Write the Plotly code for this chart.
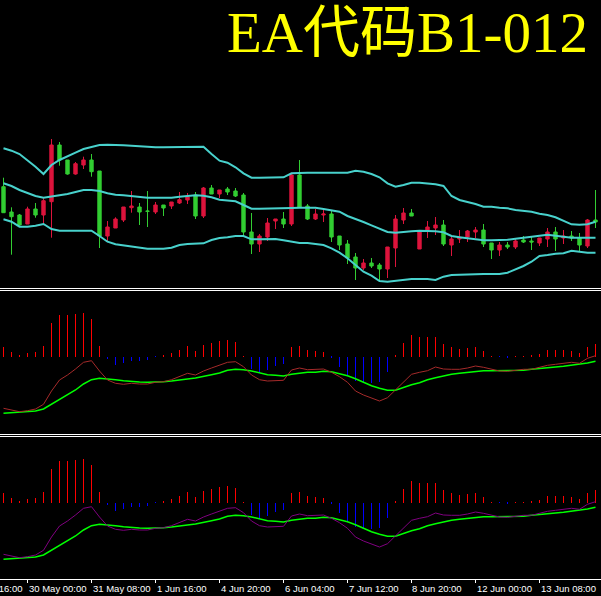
import plotly.graph_objects as go

# ---------------- data ----------------
BAR_IDX = list(range(75))

OPEN = [113.3, 88, 85, 76, 91, 85, 98.3, 155, 140, 126,
        135, 140, 129, 64, 72, 80, 92.3, 93, 89, 88,
        95, 94, 97, 100, 105, 84, 112, 106, 111, 109,
        105, 68, 56, 63, 79, 81, 76, 125, 94, 81,
        85, 86, 64, 56, 43, 32, 37, 35, 31, 52,
        80, 87, 51, 70, 72, 75, 55, 61, 63, 68,
        70, 57, 50, 55, 53, 60, 59, 57, 61, 68,
        62, 64, 62, 54, 80]
HIGH = [122.3, 92.7, 86, 93.3, 97, 101.7, 161, 158, 140, 138,
        143.3, 146, 129, 79, 82.7, 93, 109, 97, 109, 98,
        95, 98, 108, 107, 108, 113, 115, 110, 113, 112,
        107, 87, 66, 82, 81, 88, 126, 140, 96, 91,
        90, 89, 64, 60, 47, 41, 42, 37, 53, 85,
        92, 91, 68, 79, 83, 80, 64, 70, 70, 73,
        76, 57, 58, 58, 61, 64, 64, 62, 72, 73,
        70, 69, 67, 81, 110]
LOW = [87.3, 45.3, 74.3, 76, 82.3, 76, 62.3, 134.3, 125.3, 125.3,
       131, 123.3, 52, 59, 72, 78, 87.3, 75, 73, 86,
       84, 91, 96, 96, 81, 82, 106, 102, 105, 103,
       64, 46, 48, 59, 71, 72, 74, 93, 80, 80,
       78, 58, 50, 36, 20, 30, 32, 19, 22, 33,
       76, 84, 51, 62, 65, 54, 44, 57, 58, 62,
       53, 41, 44, 51, 51, 57, 50, 54, 53, 49,
       56, 59, 49, 52, 72]
CLOSE = [87.3, 83.3, 75, 91, 85, 99.3, 155, 140, 126, 136.3,
         140, 128.3, 64, 73, 81, 93, 94, 88, 88.7, 95,
         92, 98, 100.3, 103, 84, 112, 106, 110, 108, 104,
         68, 56, 64, 77, 81, 76, 125, 93, 81, 86,
         86, 63, 55, 42, 32, 37, 34, 31, 53, 81,
         87, 84, 68, 73, 75, 56, 61, 63, 69, 70,
         56, 50, 55, 53, 59, 58, 58, 62, 68, 61,
         64, 62, 55, 80, 78]

BB_UPPER = [151.7, 149.3, 146, 140, 133.3, 126, 135, 140, 143.3, 147.3,
            151, 152.7, 155, 155.3, 155.3, 154.7, 154.3, 153.7, 152.7, 152.7,
            152.7, 152.7, 152.7, 153.3, 153.3, 153.3, 146, 139.3, 137.3, 132.7,
            126.7, 122.3, 122.3, 122.3, 122.3, 122.7, 126.7, 127.3, 127.3, 127.3,
            127.3, 127.3, 127.3, 127.3, 129.3, 128.3, 126, 122.7, 116.7, 113.3,
            115, 117.3, 117.3, 116.7, 115.7, 114, 104, 100, 98.3, 96,
            93.3, 93.3, 92.3, 91.7, 90, 89.3, 88.3, 86.3, 85, 82.7,
            79.3, 75.7, 75.3, 75.7, 78.3]
BB_MID = [116.7, 114, 110, 107.3, 104, 102.3, 103.3, 105, 106, 108,
          110, 110, 109, 106.7, 105.3, 104.7, 103.7, 102.7, 102.3, 102.3,
          102.3, 102.3, 103.3, 104.3, 104.7, 104.3, 102.7, 100.3, 99.7, 98.7,
          95, 91.3, 91.3, 91.3, 91.3, 91.3, 92, 92.3, 92.3, 92.3,
          91, 90, 88.3, 84, 81.3, 78, 74.7, 71, 68, 67.3,
          67.7, 68.7, 69.3, 69.3, 68.7, 67.7, 64, 62.7, 61.7, 60.7,
          59.7, 59.7, 59.7, 60.3, 61.3, 62.3, 63.3, 64.3, 65.3, 64.3,
          63.3, 62.3, 62.3, 62.3, 62.3]
BB_LOWER = [80.7, 78.3, 73.3, 73.3, 74.3, 76, 71, 69.3, 69.3, 69.3,
            69.3, 69.3, 64, 58.3, 55.7, 54.7, 53.3, 52.3, 51.3, 51.3,
            51.3, 52.3, 55, 56, 56.3, 56.7, 60, 62, 62.7, 64,
            64, 60.7, 60.7, 61, 61, 59.7, 58, 57, 57, 56,
            55, 51.7, 47.3, 41.7, 35, 28.3, 24.3, 19, 18.3, 19.3,
            20, 21, 21, 21, 20, 23.3, 25, 25.3, 26, 26,
            26, 26, 26, 27.3, 30.7, 34, 38.3, 44, 45, 46.3,
            46.7, 49.3, 48.3, 47.3, 47.3]

HIST = [9.5, 4.5, 0.8, 3.5, 4.5, 10.5, 33.5, 41.5, 41.5, 42.5,
        43.5, 37.5, 10.5, -2.2, -8.5, -6.5, -4.5, -4.5, -3.5, -0.5,
        0.8, 3.5, 6.5, 10.5, 5.5, 11.5, 13.5, 15.5, 16.5, 14.5,
        0.5, -12.5, -16.5, -13.5, -9.5, -7.5, 9.5, 10.5, 6.5, 5.5,
        4.5, -1.5, -10.5, -18.5, -24.5, -25.5, -26.5, -25.5, -15.5, 0.8,
        13.5, 21.5, 19.5, 19.5, 19.5, 12.5, 9.5, 7.5, 8.5, 9.5,
        5.5, 0.5, -0.5, -1.5, 0.5, 0.5, 1.5, 2.5, 6.5, 6.5,
        6.5, 5.5, 3.5, 9.5, 12.5]
FAST_LINE = [-51.8, -53.5, -55.2, -54.2, -52.5, -47.8, -34.5, -23.5, -18.5, -12.5,
             -5.8, -4.2, -14.5, -23.5, -26.8, -27.8, -26.8, -27.5, -27.5, -25.8,
             -25.2, -23.2, -19.8, -16.8, -18.5, -14.5, -11.5, -8.5, -5.8, -5.2,
             -10.2, -18.5, -23.2, -24.5, -24.2, -23.8, -13.5, -11.5, -13.2, -13.2,
             -12.5, -15.8, -20.2, -25.8, -34.5, -38.5, -41.2, -44.5, -41.2, -33.5,
             -25.2, -17.8, -15.8, -14.2, -10.5, -12.5, -12.8, -12.8, -11.5, -9.5,
             -10.8, -12.8, -14.5, -14.8, -13.8, -12.8, -12.8, -10.5, -8.8, -7.8,
             -6.5, -5.8, -6.8, -1.8, 0.8]
SLOW_LINE = [-56.8, -56.2, -55.8, -55.5, -54.5, -52.5, -47.8, -43.5, -38.5, -33.5,
             -27.5, -23.2, -21.8, -22.2, -23.2, -24.2, -25.2, -25.5, -25.8, -25.8,
             -25.2, -24.5, -23.2, -22.5, -21.5, -19.5, -18.2, -16.5, -13.8, -12.8,
             -13.2, -14.5, -16.2, -18.2, -18.8, -19.5, -17.8, -16.5, -15.8, -15.8,
             -14.8, -15.2, -17.2, -19.2, -22.2, -25.8, -29.2, -31.8, -33.8, -33.8,
             -30.8, -28.2, -26.2, -23.2, -21.2, -19.2, -17.8, -16.8, -15.8, -14.8,
             -14.2, -14.2, -14.2, -14.2, -14.2, -13.8, -12.8, -11.8, -11.2, -10.5,
             -9.8, -8.8, -7.8, -6.5, -4.8]

TICK_IDX = [-5, 3, 11, 19, 27, 35, 43, 51, 59, 67]
TICK_TEXT = ["28 May 16:00", "30 May 00:00", "31 May 08:00", "1 Jun 16:00",
             "4 Jun 20:00", "6 Jun 04:00", "7 Jun 12:00", "8 Jun 20:00",
             "12 Jun 00:00", "13 Jun 08:00"]
TITLE = "EA代码B1-012"

# ---------------- styling ----------------
W, H = 601, 596
MB = 17
PH = H - MB
XMIN = -0.4375
XMAX = XMIN + W / 8.0

UP_COL = "#DC143C"
DOWN_COL = "#32CD32"
BAND_COL = "#48D1CC"
HIST_POS = "#FF0000"
HIST_NEG = "#0000FF"
FAST2_COL = "#A52A2A"
FAST3_COL = "#800080"
SLOW_COL = "#00FF00"


def py(pix):
    return 1 - pix / PH


fig = go.Figure()

fig.add_trace(go.Candlestick(
    x=BAR_IDX, open=OPEN, high=HIGH, low=LOW, close=CLOSE,
    increasing=dict(line=dict(color=UP_COL, width=1), fillcolor=UP_COL),
    decreasing=dict(line=dict(color=DOWN_COL, width=1), fillcolor=DOWN_COL),
    whiskerwidth=0, xaxis="x", yaxis="y", hoverinfo="skip"))
for band in (BB_UPPER, BB_MID, BB_LOWER):
    fig.add_trace(go.Scatter(x=BAR_IDX, y=band, mode="lines",
                             line=dict(color=BAND_COL, width=2),
                             xaxis="x", yaxis="y", hoverinfo="skip"))

hist_colors = [HIST_POS if v > 0 else HIST_NEG for v in HIST]
for yax, fast_col in (("y2", FAST2_COL), ("y3", FAST3_COL)):
    fig.add_trace(go.Bar(x=BAR_IDX, y=HIST, width=0.1,
                         marker=dict(color=hist_colors, line=dict(width=0)),
                         xaxis="x", yaxis=yax, hoverinfo="skip"))
    fig.add_trace(go.Scatter(x=BAR_IDX, y=SLOW_LINE, mode="lines",
                             line=dict(color=SLOW_COL, width=1.5),
                             xaxis="x", yaxis=yax, hoverinfo="skip"))
    fig.add_trace(go.Scatter(x=BAR_IDX, y=FAST_LINE, mode="lines",
                             line=dict(color=fast_col, width=1),
                             xaxis="x", yaxis=yax, hoverinfo="skip"))

shapes = []
for pix in (288.5, 290.5, 434.5, 436.5, 579.5):
    shapes.append(dict(type="line", xref="paper", yref="paper",
                       x0=0, x1=1, y0=py(pix), y1=py(pix),
                       line=dict(color="white", width=1)))
annotations = []
for idx, txt in zip(TICK_IDX, TICK_TEXT):
    px = (idx - XMIN) / (XMAX - XMIN)
    shapes.append(dict(type="line", xref="paper", yref="paper",
                       x0=px, x1=px, y0=py(580), y1=py(583),
                       line=dict(color="white", width=1)))
    annotations.append(dict(x=px, y=py(588.5), xref="paper", yref="paper",
                            text=txt, showarrow=False, xanchor="left",
                            yanchor="middle", xshift=-1,
                            font=dict(family="Liberation Sans", size=9.5,
                                      color="white")))
annotations.append(dict(x=590 / W, y=py(33), xref="paper", yref="paper",
                        text=TITLE, showarrow=False, xanchor="right",
                        yanchor="middle",
                        font=dict(family="Liberation Serif, Noto Sans CJK SC",
                                  size=57, color="#FFFF00")))

axis_common = dict(showgrid=False, zeroline=False, showticklabels=False,
                   ticks="", showline=False, fixedrange=True)
fig.update_layout(
    width=W, height=H,
    margin=dict(l=0, r=0, t=0, b=MB, pad=0),
    paper_bgcolor="black", plot_bgcolor="black",
    showlegend=False, boxgap=0.4, bargap=0,
    xaxis=dict(range=[XMIN, XMAX], anchor="y3", rangeslider=dict(visible=False),
               **axis_common),
    yaxis=dict(domain=[py(287), 1], range=[13, 300], **axis_common),
    yaxis2=dict(domain=[py(433), py(291)], range=[-76.5, 65.5], **axis_common),
    yaxis3=dict(domain=[0, py(437)], range=[-76.5, 65.5], **axis_common),
    shapes=shapes, annotations=annotations,
)

fig.write_html("out.html", config={"displayModeBar": False},
               post_script="document.body.style.margin='0';document.body.style.background='black';")
